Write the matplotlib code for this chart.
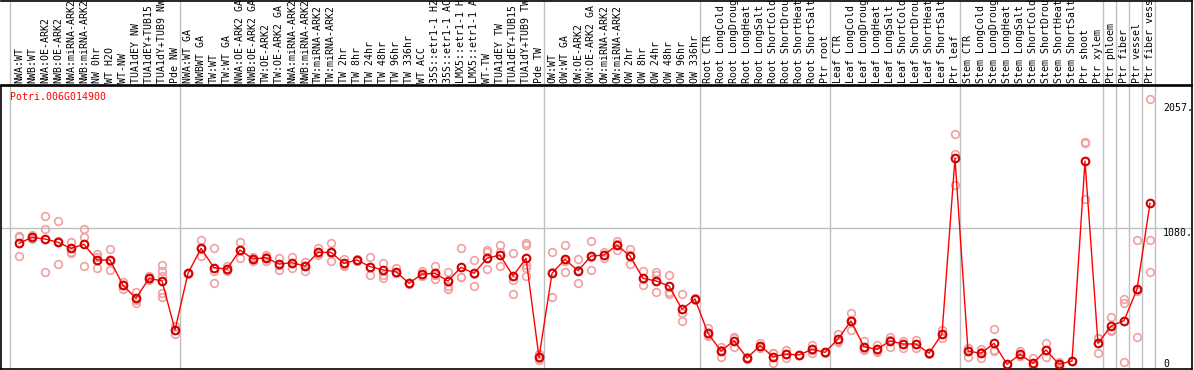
import matplotlib
matplotlib.use("Agg")
import matplotlib.pyplot as plt
import matplotlib.transforms as mtransforms

# sample labels (long ones are cut off by the label box, as in the original)
labels = [
    "NWA:WT", "NWB:WT", "NWA:OE-ARK2", "NWB:OE-ARK2", "NWA:miRNA-ARK2", "NWB:miRNA-ARK2",
    "NW 0hr", "WT H2O", "WT-NW", "TUA1dEY NW", "TUA1dEY+TUB15 NW", "TUA1dY+TUB9 NW", "Pde NW",
    "NWA:WT GA", "NWBWT GA", "TW:WT", "TW:WT GA", "NWA:OE-ARK2 GA", "NWB:OE-ARK2 GA",
    "TW:OE-ARK2", "TW:OE-ARK2 GA", "NWA:miRNA-ARK2", "NWB:miRNA-ARK2", "TW:miRNA-ARK2",
    "TW:miRNA-ARK2", "TW 2hr", "TW 8hr", "TW 24hr", "TW 48hr", "TW 96hr", "TW 336hr",
    "WT ACC", "35S::etr1-1 H2O", "35S::etr1-1 ACC", "LMX5::etr1-1 H2O", "LMX5::etr1-1 ACC",
    "WT-TW", "TUA1dEY TW", "TUA1dEY+TUB15 TW", "TUA1dY+TUB9 TW", "Pde TW",
    "OW:WT", "OW:WT GA", "OW:OE-ARK2", "OW:OE-ARK2 GA", "OW:miRNA-ARK2", "OW:miRNA-ARK2",
    "OW 2hr", "OW 8hr", "OW 24hr", "OW 48hr", "OW 96hr", "OW 336hr",
    "Root CTR", "Root LongCold", "Root LongDrought", "Root LongHeat", "Root LongSalt",
    "Root ShortCold", "Root ShortDrought", "Root ShortHeat", "Root ShortSalt", "Ptr root",
    "Leaf CTR", "Leaf LongCold", "Leaf LongDrought", "Leaf LongHeat", "Leaf LongSalt",
    "Leaf ShortCold", "Leaf ShortDrought", "Leaf ShortHeat", "Leaf ShortSalt", "Ptr leaf",
    "Stem CTR", "Stem LongCold", "Stem LongDrought", "Stem LongHeat", "Stem LongSalt",
    "Stem ShortCold", "Stem ShortDrought", "Stem ShortHeat", "Stem ShortSalt", "Ptr shoot",
    "Ptr xylem", "Ptr phloem", "Ptr fiber", "Ptr vessel", "Ptr fiber vessel",
]
group_sizes = [13, 28, 12, 10, 10, 11, 1, 1, 1, 1]

means = [959, 1005, 992, 967, 921, 951, 832, 832, 639, 540, 692, 672, 298,
         730, 921, 773, 763, 908, 840, 850, 801, 811, 786, 890, 890, 806, 832, 781,
         756, 743, 654, 725, 730, 672, 776, 730, 845, 870, 710, 845, 89,
         730, 837, 750, 862, 870, 946, 862, 692, 672, 633, 456, 534,
         272, 137, 216, 84, 178, 94, 114, 107, 150, 127,
         229, 366, 170, 150, 214, 191, 191, 120, 267, 1608,
         137, 120, 196, 36, 112, 43, 145, 36, 61, 1587, 196,
         328, 369, 608, 1265]

reps = [
    [1015, 1005, 865], [1020, 1005, 990], [1167, 1066, 743], [1127, 799, 975],
    [972, 896, 883], [1066, 1005, 786], [875, 768, 853], [913, 756, 827],
    [667, 608, 642], [590, 501, 529], [710, 679, 687], [790, 750, 710, 578, 552],
    [328, 265, 300],
    [735, 725], [985, 862, 915], [921, 748, 654], [788, 748, 755], [969, 845, 910],
    [857, 824, 840], [870, 827, 853], [850, 756, 797], [857, 768, 808], [819, 750, 789],
    [921, 870, 880], [959, 827, 885], [842, 788, 790], [838, 826, 832], [857, 781, 717],
    [811, 717, 692], [768, 735, 730], [660, 650], [750, 710, 718], [786, 685, 720],
    [743, 633, 608], [921, 704, 705], [832, 633, 725], [908, 895, 761], [946, 895, 786],
    [883, 679, 572], [959, 946, 794, 768, 710], [114, 69, 85],
    [895, 743, 552], [946, 743, 822], [837, 659, 754], [977, 756, 853], [895, 845, 870],
    [979, 908, 951], [913, 801, 872], [750, 641, 685], [743, 717, 585], [717, 590, 572],
    [572, 369, 427], [540, 528],
    [310, 250, 256], [170, 94, 147], [234, 170, 244], [90, 78], [201, 158, 175],
    [120, 43, 119], [145, 82, 115], [110, 104], [183, 120, 147], [130, 124],
    [267, 204, 216], [425, 298, 375], [216, 150, 144], [183, 137, 130], [247, 170, 225],
    [216, 163, 194], [222, 163, 188], [125, 115], [300, 234, 267], [1794, 1641, 1404],
    [158, 94, 160], [150, 82, 128], [303, 137, 148], [40, 32], [135, 100, 101],
    [82, 20, 27], [196, 94, 145], [56, 26, 26], [64, 58], [1735, 1727, 1295],
    [234, 120, 234],
    [395, 292, 297], [532, 501, 56], [985, 242, 597], [2057, 985, 738],
]

gene = "Potri.006G014900"

W, H = 1194, 370
mono = "DejaVu Sans Mono"
grey = "#c0c0c0"

fig = plt.figure(figsize=(W / 100, H / 100), dpi=100)
ax = fig.add_axes([1 / W, 1 / H, 1191 / W, 283 / H])
lab = fig.add_axes([1 / W, 285 / H, 1191 / W, 84.5 / H])

x0 = -18 / 13
xlim = (x0, x0 + 1191 / 13)
for a in (ax, lab):
    a.set_xlim(*xlim)
    a.set_xticks([])
    a.set_yticks([])
    for s in a.spines.values():
        s.set_linewidth(1.2)
        s.set_color("black")
lab.spines["left"].set_visible(False)
lab.set_ylim(0, 1)

ymax = max(max(r) for r in reps)
ytop = ymax * 1.05
ax.set_ylim(0, ytop)

# separators
seps = [-0.69]
pos = 0
for g in group_sizes:
    pos += g
    seps.append(pos - 1 + 0.42)
for s in seps:
    ax.axvline(s, color=grey, lw=1, zorder=0)
    lab.axvline(s, color=grey, lw=1, zorder=0)
ax.axhline(ytop / 2, color=grey, lw=1, zorder=0)

# labels
tr = mtransforms.blended_transform_factory(lab.transData, lab.transAxes)
for i, t in enumerate(labels):
    lab.text(i, 0.025, t, rotation=90, ha="center", va="bottom", transform=tr,
             fontsize=7.1, family=mono, clip_on=True)

# replicate points
for i, r in enumerate(reps):
    ax.plot([i] * len(r), r, "o", mfc="none", mec="#f0a0a0", ms=5.5, mew=1.2, zorder=2)

xs = list(range(len(means)))
ax.plot(xs, means, "-", color="red", lw=1, zorder=3)
ax.plot(xs, means, "o", mfc="none", mec="#d00000", ms=5.5, mew=1.5, zorder=4)

# right-hand value labels
tx = mtransforms.blended_transform_factory(ax.transAxes, ax.transData)
xt = (1163 - 1) / 1191
tx_low = mtransforms.offset_copy(tx, fig=fig, x=0, y=-4, units="dots")
ax.text(xt, ymax, "%d." % ymax, transform=tx_low, ha="left", va="top", fontsize=7.1, family=mono)
ax.text(xt, ytop / 2, "%d." % round(ytop / 2), transform=tx, ha="left", va="top",
        fontsize=7.1, family=mono)
ax.text(xt, 0, "0", transform=tx, ha="left", va="bottom", fontsize=7.1, family=mono)

fig.text(10 / W, 1 - 100 / H, gene, color="red", fontsize=7.1, family=mono, va="baseline")

fig.savefig("out.png", dpi=100)
